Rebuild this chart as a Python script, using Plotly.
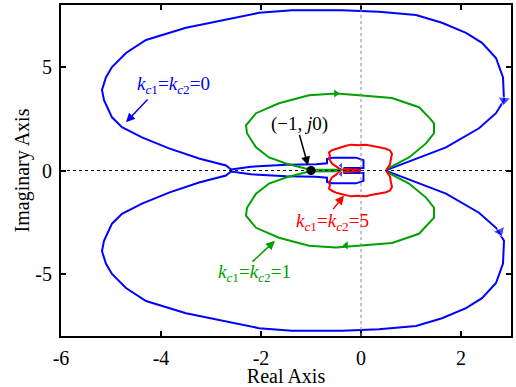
import plotly.graph_objects as go

# ---- data (upper half of each Nyquist locus; lower half is its mirror) ----
blue_x = [0.52, 1.02, 1.7, 2.36, 2.7, 2.86, 2.84, 2.7, 2.42, 2.1, 1.62, 1.1, 0.36, -0.38,
          -1.38, -2.04, -2.7, -3.5, -4.3, -4.7, -4.98, -5.1, -5.18, -5.14, -4.98, -4.78,
          -4.38, -3.84, -3.24, -2.7, -2.6, -2.2, -1.5, -0.9, -0.68, -0.68, -0.58, -0.1,
          0.05, 0.05, -0.35, 0.0]
blue_y = [0.03, 0.49, 1.12, 2.04, 2.77, 3.4, 4.5, 5.44, 6.17, 6.65, 7.14, 7.52, 7.67, 7.75,
          7.75, 7.62, 7.28, 6.9, 6.31, 5.68, 5.0, 4.51, 3.9, 3.4, 2.57, 2.09,
          1.6, 1.07, 0.58, 0.24, 0.05, 0.18, 0.28, 0.3, 0.35, 0.55, 0.62, 0.62,
          0.5, 0.12, 0.12, 0.02]

green_x = [0.5, 0.96, 1.3, 1.46, 1.46, 1.36, 1.16, 0.62, -0.04, -0.5, -1.04, -1.64, -2.1,
           -2.3, -2.28, -2.1, -1.84, -1.5, -1.04, -0.5, 0.0]
green_y = [0.05, 0.63, 1.31, 1.8, 2.28, 2.57, 3.06, 3.5, 3.64, 3.72, 3.64, 3.25, 2.77,
           2.18, 1.8, 1.12, 0.63, 0.34, 0.05, 0.04, 0.02]

red_x = [0.5, 0.58, 0.6, 0.62, 0.58, 0.5, 0.36, 0.2, 0.1, -0.05, -0.2, -0.3, -0.42, -0.5,
         -0.58, -0.64, -0.62, -0.64, -0.58, -0.44, -0.2, 0.0]
red_y = [0.0, 0.3, 0.58, 0.8, 0.97, 1.05, 1.12, 1.18, 1.24, 1.22, 1.25, 1.2, 1.12, 1.07,
         0.98, 0.87, 0.7, 0.58, 0.34, 0.1, 0.06, 0.03]

# direction arrows on the loci
arrow_blue_x = [2.86, 2.78, -0.4, -0.4]
arrow_blue_y = [3.4, -2.95, 0.24, -0.18]
arrow_blue_sym = ["triangle-down", "triangle-down", "triangle-left", "triangle-left"]
arrow_blue_size = [11, 11, 6, 6]
arrow_blue_ang = [5, -25, 0, 0]
arrow_green_x = [-0.5, -0.3]
arrow_green_y = [3.72, -3.62]
arrow_green_sym = ["triangle-right", "triangle-left"]

point_x = [-1]
point_y = [0]

x_ticks = [-6, -4, -2, 0, 2]
x_ticktext = ["-6", "-4", "-2", "0", "2"]
y_ticks = [-5, 0, 5]
y_ticktext = ["-5", "0", "5"]

BLUE = "#0000ff"
GREEN = "#00a000"
RED = "#ff0000"
FONT = "Liberation Serif"


def full(xs, ys):
    # lower half (mirror, reversed) followed by upper half
    lx = list(reversed(xs))
    ly = [-v for v in reversed(ys)]
    return lx + [None] + list(xs), ly + [None] + list(ys)


fig = go.Figure()
for xs, ys, c in [(blue_x, blue_y, BLUE), (green_x, green_y, GREEN), (red_x, red_y, RED)]:
    fx, fy = full(xs, ys)
    fig.add_trace(go.Scatter(x=fx, y=fy, mode="lines", line=dict(color=c, width=2),
                             connectgaps=False, showlegend=False, hoverinfo="skip"))

fig.add_trace(go.Scatter(x=arrow_blue_x, y=arrow_blue_y, mode="markers",
                         marker=dict(symbol=arrow_blue_sym, size=arrow_blue_size,
                                     angle=arrow_blue_ang, color=BLUE),
                         showlegend=False))
fig.add_trace(go.Scatter(x=arrow_green_x, y=arrow_green_y, mode="markers",
                         marker=dict(symbol=arrow_green_sym, size=7, color=GREEN),
                         showlegend=False))
fig.add_trace(go.Scatter(x=point_x, y=point_y, mode="markers",
                         marker=dict(size=9, color="black"), showlegend=False))

fig.add_vline(x=0, line=dict(color="#888888", width=1, dash="dot"))
fig.add_hline(y=0, line=dict(color="black", width=1, dash="dot"))

lab = "<i>k</i><sub><i>c</i>1</sub>=<i>k</i><sub><i>c</i>2</sub>={}"
labels = [
    (lab.format(0), -3.76, 4.13, -4.7, 2.33, -4.24, 3.5, BLUE),
    (lab.format(1), -2.14, -4.95, -1.72, -3.4, -2.2, -4.47, GREEN),
    (lab.format(5), -0.58, -2.48, -0.34, -1.21, -0.58, -1.94, RED),
    ("(\u22121, <i>j</i>0)", -1.24, 2.23, -1.06, 0.24, -1.24, 1.8, "black"),
]
for text, tx, ty, hx, hy, ax, ay, c in labels:
    fig.add_annotation(x=hx, y=hy, ax=ax, ay=ay, xref="x", yref="y", axref="x", ayref="y",
                       text="", showarrow=True, arrowhead=2, arrowsize=1.2, arrowwidth=1.5,
                       arrowcolor=c)
    fig.add_annotation(x=tx, y=ty, xref="x", yref="y", text=text, showarrow=False,
                       font=dict(family=FONT, size=19, color=c))

axis_common = dict(showline=True, linecolor="black", linewidth=2, mirror="allticks",
                   ticks="inside", ticklen=5, tickwidth=1.5, tickcolor="black",
                   showgrid=False, zeroline=False,
                   tickfont=dict(family=FONT, size=20, color="black"))
fig.update_xaxes(range=[-6, 3], tickvals=x_ticks, ticktext=x_ticktext,
                 title=dict(text="Real Axis", font=dict(family=FONT, size=20, color="black"),
                            standoff=0),
                 ticklabelstandoff=3, **axis_common)
fig.update_yaxes(range=[-8, 8], tickvals=y_ticks, ticktext=y_ticktext,
                 title=dict(text="Imaginary Axis", font=dict(family=FONT, size=20, color="black"),
                            standoff=0),
                 ticklabelstandoff=3, **axis_common)

fig.update_layout(width=516, height=387, margin=dict(l=61, r=3, t=5, b=51),
                  plot_bgcolor="white", paper_bgcolor="white")

fig.write_html("out.html")
